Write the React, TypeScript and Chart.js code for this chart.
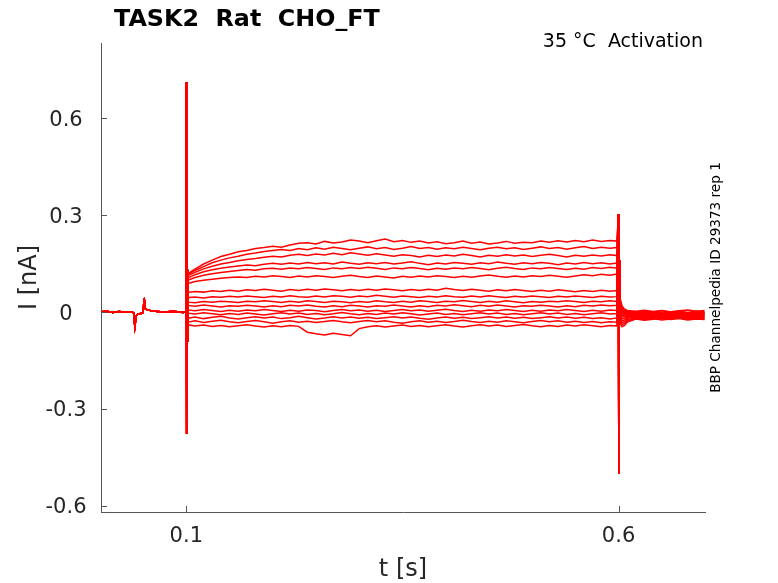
import React, { useEffect, useRef } from "react";
import { Chart, registerables } from "chart.js";

Chart.register(...registerables);

const TITLE = "TASK2  Rat  CHO_FT";
const NOTE = "35 °C  Activation";
const SIDE = "BBP Channelpedia ID 29373 rep 1";
const X_LABEL = "t [s]";
const Y_LABEL = "I [nA]";

const xTickValues = [0.1, 0.6];
const xTickLabels = ["0.1", "0.6"];
const yTickValues = [0.6, 0.3, 0, -0.3, -0.6];
const yTickLabels = ["0.6", "0.3", "0", "-0.3", "-0.6"];

// holding phase before the step (shared by every sweep)
const preTimes = [0.0015, 0.008, 0.015, 0.022, 0.03, 0.036, 0.039, 0.0405, 0.042, 0.044, 0.047, 0.05, 0.0512, 0.0525, 0.055, 0.06, 0.067, 0.075, 0.083, 0.09, 0.096, 0.0996];
const preCurrent = [0.0, 0.002, -0.002, 0.001, -0.001, 0.0, -0.003, -0.046, -0.012, -0.007, -0.005, -0.004, 0.043, 0.01, 0.006, 0.003, 0.001, -0.001, 0.002, 0.0, -0.002, 0.0];

// capacitive transient at step onset
const onsetTimes = [0.0999, 0.1002, 0.1006, 0.101, 0.1015];
const onsetCurrent = [0.711, -0.378, 0.22, -0.09, 0.13];

const stepTimes = [
  0.102, 0.11, 0.12, 0.13, 0.14, 0.15, 0.16, 0.17, 0.18, 0.19,
  0.2, 0.21, 0.22, 0.23, 0.24, 0.25, 0.26, 0.27, 0.28, 0.29,
  0.3, 0.31, 0.32, 0.33, 0.34, 0.35, 0.36, 0.37, 0.38, 0.39,
  0.4, 0.41, 0.42, 0.43, 0.44, 0.45, 0.46, 0.47, 0.48, 0.49,
  0.5, 0.51, 0.52, 0.53, 0.54, 0.55, 0.56, 0.57, 0.58, 0.59,
  0.598,
];

const sweep1 = [
  0.118, 0.132, 0.148, 0.16, 0.171, 0.178, 0.186, 0.19, 0.196, 0.199,
  0.203, 0.2, 0.207, 0.212, 0.214, 0.21, 0.218, 0.213, 0.216, 0.222,
  0.219, 0.214, 0.22, 0.225, 0.217, 0.221, 0.215, 0.219, 0.213, 0.217,
  0.211, 0.214, 0.219, 0.212, 0.216, 0.21, 0.213, 0.218, 0.212, 0.215,
  0.214, 0.219, 0.215, 0.22, 0.216, 0.221, 0.217, 0.222, 0.218, 0.221,
  0.219,
];
const sweep2 = [
  0.115, 0.128, 0.14, 0.152, 0.16, 0.167, 0.172, 0.178, 0.182, 0.187,
  0.19, 0.193, 0.19, 0.196, 0.192, 0.198, 0.194, 0.2, 0.196, 0.192,
  0.197, 0.201, 0.195, 0.199, 0.193, 0.197, 0.202, 0.196, 0.199, 0.194,
  0.198, 0.195, 0.2, 0.196, 0.192, 0.197, 0.2, 0.195, 0.198, 0.193,
  0.197, 0.201, 0.196, 0.199, 0.194, 0.198, 0.202, 0.196, 0.2, 0.197,
  0.199,
];
const sweep3 = [
  0.112, 0.122, 0.133, 0.141, 0.148, 0.153, 0.158, 0.162, 0.165, 0.169,
  0.172, 0.17, 0.175, 0.178, 0.174, 0.179, 0.176, 0.181, 0.177, 0.183,
  0.179, 0.175, 0.18, 0.176, 0.172, 0.177, 0.174, 0.17, 0.175, 0.171,
  0.176, 0.173, 0.178, 0.174, 0.17, 0.175, 0.172, 0.177, 0.173, 0.176,
  0.171, 0.175, 0.178, 0.174, 0.17, 0.175, 0.172, 0.176, 0.173, 0.177,
  0.174,
];
const sweep4 = [
  0.105, 0.115, 0.124, 0.13, 0.135, 0.139, 0.142, 0.145, 0.143, 0.147,
  0.15, 0.147, 0.151, 0.148, 0.153, 0.149, 0.152, 0.148, 0.154, 0.15,
  0.147, 0.152, 0.149, 0.153, 0.148, 0.151, 0.155, 0.15, 0.146, 0.151,
  0.148, 0.153, 0.15, 0.147, 0.152, 0.149, 0.154, 0.15, 0.147, 0.152,
  0.149, 0.153, 0.15, 0.146, 0.151, 0.148, 0.153, 0.149, 0.152, 0.148,
  0.151,
];
const sweep5 = [
  0.098, 0.106, 0.113, 0.118, 0.122, 0.125, 0.128, 0.131, 0.129, 0.133,
  0.135, 0.132, 0.136, 0.133, 0.137, 0.134, 0.131, 0.136, 0.133, 0.137,
  0.134, 0.138, 0.135, 0.131, 0.136, 0.133, 0.137, 0.134, 0.13, 0.135,
  0.132, 0.136, 0.133, 0.137, 0.134, 0.13, 0.135, 0.138, 0.134, 0.131,
  0.136, 0.133, 0.137, 0.134, 0.131, 0.135, 0.132, 0.137, 0.134, 0.138,
  0.135,
];
const sweep6 = [
  0.088, 0.094, 0.098, 0.101, 0.104, 0.106, 0.108, 0.106, 0.11, 0.108,
  0.112, 0.109, 0.106, 0.111, 0.108, 0.112, 0.109, 0.106, 0.11, 0.113,
  0.109, 0.106, 0.111, 0.108, 0.105, 0.11, 0.107, 0.111, 0.108, 0.112,
  0.109, 0.106, 0.11, 0.107, 0.111, 0.114, 0.11, 0.107, 0.111, 0.108,
  0.112, 0.109, 0.113, 0.11, 0.107, 0.111, 0.115, 0.112, 0.116, 0.113,
  0.117,
];
const sweep7 = [
  0.06, 0.063, 0.061, 0.065, 0.063, 0.067, 0.064, 0.068, 0.066, 0.07,
  0.067, 0.064, 0.069, 0.066, 0.07, 0.067, 0.071, 0.068, 0.065, 0.069,
  0.066, 0.07, 0.067, 0.071, 0.068, 0.065, 0.069, 0.066, 0.07, 0.067,
  0.073, 0.069, 0.066, 0.07, 0.067, 0.064, 0.068, 0.065, 0.069, 0.066,
  0.063, 0.067, 0.064, 0.068, 0.065, 0.062, 0.066, 0.063, 0.067, 0.064,
  0.066,
];
const sweep8 = [
  0.044, 0.046, 0.043, 0.047, 0.045, 0.048, 0.046, 0.049, 0.047, 0.044,
  0.048, 0.046, 0.05, 0.047, 0.045, 0.049, 0.046, 0.05, 0.048, 0.045,
  0.049, 0.047, 0.051, 0.048, 0.045, 0.049, 0.047, 0.044, 0.048, 0.046,
  0.05, 0.047, 0.045, 0.049, 0.046, 0.05, 0.047, 0.044, 0.048, 0.046,
  0.049, 0.047, 0.044, 0.048, 0.046, 0.049, 0.047, 0.044, 0.048, 0.046,
  0.047,
];
const sweep9 = [
  0.03, 0.028, 0.032, 0.03, 0.033, 0.031, 0.029, 0.033, 0.031, 0.034,
  0.032, 0.029, 0.033, 0.03, 0.034, 0.032, 0.029, 0.033, 0.031, 0.028,
  0.032, 0.03, 0.034, 0.031, 0.029, 0.033, 0.03, 0.034, 0.032, 0.029,
  0.033, 0.031, 0.035, 0.032, 0.029, 0.033, 0.03, 0.034, 0.031, 0.028,
  0.032, 0.03, 0.033, 0.031, 0.034, 0.032, 0.029, 0.033, 0.031, 0.034,
  0.032,
];
const sweep10 = [
  0.02, 0.017, 0.021, 0.018, 0.015, 0.019, 0.017, 0.02, 0.018, 0.015,
  0.019, 0.016, 0.02, 0.018, 0.021, 0.017, 0.015, 0.019, 0.016, 0.02,
  0.018, 0.015, 0.019, 0.017, 0.021, 0.018, 0.015, 0.019, 0.016, 0.02,
  0.018, 0.022, 0.019, 0.016, 0.02, 0.017, 0.021, 0.018, 0.015, 0.019,
  0.017, 0.02, 0.018, 0.015, 0.019, 0.016, 0.02, 0.018, 0.021, 0.019,
  0.02,
];
const sweep11 = [
  0.006, 0.003, 0.007, 0.004, 0.001, 0.005, 0.002, 0.006, 0.003, 0.007,
  0.004, 0.001, 0.005, 0.002, 0.006, 0.004, 0.0, 0.004, 0.007, 0.003,
  0.006, 0.002, 0.005, 0.001, 0.004, 0.007, 0.003, 0.006, 0.002, 0.005,
  0.008, 0.004, 0.001, 0.005, 0.002, 0.006, 0.003, 0.007, 0.004, 0.001,
  0.005, 0.002, 0.006, 0.003, 0.007, 0.004, 0.001, 0.005, 0.002, 0.006,
  0.004,
];
const sweep12 = [
  -0.004, -0.007, -0.003, -0.006, -0.009, -0.005, -0.008, -0.004, -0.007, -0.01,
  -0.006, -0.003, -0.007, -0.004, -0.008, -0.005, -0.009, -0.006, -0.002, -0.006,
  -0.009, -0.005, -0.008, -0.004, -0.007, -0.003, -0.006, -0.01, -0.007, -0.004,
  -0.008, -0.005, -0.009, -0.006, -0.003, -0.007, -0.004, -0.008, -0.005, -0.009,
  -0.006, -0.003, -0.007, -0.004, -0.008, -0.005, -0.009, -0.006, -0.003, -0.007,
  -0.005,
];
const sweep13 = [
  -0.02, -0.016, -0.021, -0.017, -0.014, -0.019, -0.022, -0.018, -0.015, -0.019,
  -0.016, -0.021, -0.018, -0.014, -0.018, -0.022, -0.019, -0.015, -0.019, -0.016,
  -0.02, -0.017, -0.021, -0.018, -0.015, -0.019, -0.016, -0.02, -0.023, -0.019,
  -0.016, -0.02, -0.017, -0.021, -0.018, -0.015, -0.019, -0.016, -0.02, -0.017,
  -0.021, -0.018, -0.015, -0.019, -0.016, -0.02, -0.017, -0.021, -0.018, -0.022,
  -0.019,
];
const sweep14 = [
  -0.032, -0.028, -0.033, -0.029, -0.026, -0.031, -0.034, -0.03, -0.027, -0.031,
  -0.035, -0.031, -0.028, -0.032, -0.029, -0.033, -0.03, -0.027, -0.031, -0.034,
  -0.03, -0.027, -0.031, -0.028, -0.032, -0.035, -0.031, -0.028, -0.032, -0.029,
  -0.033, -0.03, -0.026, -0.03, -0.033, -0.029, -0.032, -0.028, -0.031, -0.034,
  -0.03, -0.027, -0.031, -0.028, -0.032, -0.029, -0.033, -0.03, -0.034, -0.031,
  -0.032,
];
const sweep15 = [
  -0.04, -0.044, -0.041, -0.045, -0.042, -0.046, -0.043, -0.04, -0.044, -0.047,
  -0.043, -0.046, -0.042, -0.045, -0.063, -0.068, -0.072, -0.066, -0.07, -0.074,
  -0.052, -0.046, -0.043, -0.047, -0.044, -0.041, -0.045, -0.042, -0.046, -0.043,
  -0.04, -0.044, -0.047, -0.043, -0.04, -0.044, -0.041, -0.045, -0.042, -0.039,
  -0.043, -0.046, -0.042, -0.045, -0.041, -0.044, -0.04, -0.043, -0.046, -0.042,
  -0.044,
];

// capacitive transient at step offset
const offsetTimes = [0.5999, 0.6003, 0.6008, 0.6013];
const offsetCurrent = [0.302, -0.5, 0.16, 0.09];

const tailTimes = [0.602, 0.604, 0.607, 0.61, 0.62, 0.63, 0.64, 0.65, 0.66, 0.67, 0.68, 0.69, 0.6995];
const tail1 = [0.04, 0.018, 0.008, 0.004, 0.002, 0.005, 0.001, 0.004, 0.0, 0.003, 0.006, 0.002, 0.004];
const tail2 = [0.034, 0.014, 0.005, 0.001, -0.002, 0.002, -0.001, 0.003, -0.002, 0.001, -0.003, 0.002, 0.0];
const tail3 = [0.03, 0.01, 0.002, -0.002, 0.001, -0.003, 0.0, -0.004, -0.001, 0.002, -0.002, 0.001, -0.002];
const tail4 = [0.026, 0.008, 0.0, -0.004, -0.001, -0.005, -0.002, -0.006, -0.003, 0.0, -0.004, -0.001, -0.003];
const tail5 = [0.022, 0.005, -0.002, -0.006, -0.003, -0.007, -0.004, -0.008, -0.005, -0.002, -0.006, -0.003, -0.005];
const tail6 = [0.018, 0.002, -0.004, -0.007, -0.005, -0.009, -0.006, -0.003, -0.007, -0.004, -0.008, -0.005, -0.006];
const tail7 = [0.012, -0.002, -0.006, -0.009, -0.006, -0.01, -0.007, -0.011, -0.008, -0.005, -0.009, -0.006, -0.008];
const tail8 = [0.006, -0.006, -0.009, -0.011, -0.008, -0.012, -0.009, -0.013, -0.01, -0.007, -0.011, -0.008, -0.01];
const tail9 = [0.0, -0.01, -0.012, -0.013, -0.01, -0.014, -0.011, -0.008, -0.012, -0.009, -0.013, -0.01, -0.011];
const tail10 = [-0.006, -0.016, -0.015, -0.015, -0.012, -0.016, -0.013, -0.017, -0.014, -0.011, -0.015, -0.012, -0.014];
const tail11 = [-0.012, -0.022, -0.02, -0.017, -0.014, -0.018, -0.015, -0.012, -0.016, -0.013, -0.017, -0.014, -0.015];
const tail12 = [-0.018, -0.028, -0.025, -0.02, -0.016, -0.02, -0.017, -0.021, -0.018, -0.015, -0.019, -0.016, -0.018];
const tail13 = [-0.024, -0.034, -0.03, -0.024, -0.018, -0.022, -0.019, -0.016, -0.02, -0.017, -0.021, -0.018, -0.019];
const tail14 = [-0.03, -0.04, -0.036, -0.028, -0.02, -0.024, -0.021, -0.025, -0.022, -0.019, -0.023, -0.02, -0.022];
const tail15 = [-0.036, -0.046, -0.042, -0.032, -0.022, -0.026, -0.023, -0.02, -0.024, -0.021, -0.025, -0.022, -0.024];

const stepSweeps = [sweep1, sweep2, sweep3, sweep4, sweep5, sweep6, sweep7, sweep8, sweep9, sweep10, sweep11, sweep12, sweep13, sweep14, sweep15];
const tailSweeps = [tail1, tail2, tail3, tail4, tail5, tail6, tail7, tail8, tail9, tail10, tail11, tail12, tail13, tail14, tail15];

const X_MIN = 0.0013;
const X_MAX = 0.7;
const Y_MIN = -0.6195;
const Y_MAX = 0.832;

const TRACE_COLOR = "#ff0000";
const AXIS_COLOR = "#555555";
const TEXT_COLOR = "#262626";
const FONT = '"DejaVu Sans", "Liberation Sans", sans-serif';

function buildSweep(k: number) {
  const pts: { x: number; y: number }[] = [];
  preTimes.forEach((t, i) => pts.push({ x: t, y: preCurrent[i] }));
  onsetTimes.forEach((t, i) => pts.push({ x: t, y: onsetCurrent[i] }));
  stepTimes.forEach((t, i) => pts.push({ x: t, y: stepSweeps[k][i] }));
  offsetTimes.forEach((t, i) => pts.push({ x: t, y: offsetCurrent[i] }));
  tailTimes.forEach((t, i) => pts.push({ x: t, y: tailSweeps[k][i] }));
  return pts;
}

const decorPlugin = {
  id: "decor",
  afterDraw(chart: any) {
    const { ctx, chartArea: a, scales } = chart;
    const xs = scales.x;
    const ys = scales.y;
    ctx.save();
    // inward tick marks
    ctx.strokeStyle = AXIS_COLOR;
    ctx.lineWidth = 1;
    ctx.beginPath();
    xTickValues.forEach((v) => {
      const px = Math.round(xs.getPixelForValue(v)) + 0.5;
      ctx.moveTo(px, a.bottom);
      ctx.lineTo(px, a.bottom - 6);
    });
    yTickValues.forEach((v) => {
      const py = Math.round(ys.getPixelForValue(v)) + 0.5;
      ctx.moveTo(a.left, py);
      ctx.lineTo(a.left + 6, py);
    });
    ctx.stroke();

    ctx.fillStyle = TEXT_COLOR;
    ctx.textBaseline = "alphabetic";
    ctx.font = `21px ${FONT}`;
    ctx.textAlign = "center";
    xTickValues.forEach((v, i) => {
      ctx.fillText(xTickLabels[i], xs.getPixelForValue(v), a.bottom + 30);
    });
    ctx.textAlign = "center";
    yTickValues.forEach((v, i) => {
      ctx.fillText(yTickLabels[i], a.left - 35, ys.getPixelForValue(v) + 7.7);
    });

    // axis titles
    ctx.font = `24px ${FONT}`;
    ctx.textAlign = "center";
    ctx.fillText(X_LABEL, (a.left + a.right) / 2, a.bottom + 64);
    ctx.save();
    ctx.translate(35.5, (a.top + a.bottom) / 2);
    ctx.rotate(-Math.PI / 2);
    ctx.fillText(Y_LABEL, 0, 0);
    ctx.restore();

    // title
    ctx.fillStyle = "#000000";
    ctx.font = `bold 23.8px ${FONT}`;
    ctx.textAlign = "left";
    ctx.fillText(TITLE, a.left + 13, 26);

    // annotation
    ctx.font = `19px ${FONT}`;
    ctx.textAlign = "right";
    ctx.fillText(NOTE, a.right - 2, 47);

    // side label
    ctx.font = `13.6px ${FONT}`;
    ctx.textAlign = "center";
    ctx.save();
    ctx.translate(720, (a.top + a.bottom) / 2);
    ctx.rotate(-Math.PI / 2);
    ctx.fillText(SIDE, 0, 0);
    ctx.restore();

    ctx.restore();
  },
};

export default function App() {
  const canvasRef = useRef<HTMLCanvasElement | null>(null);

  useEffect(() => {
    const canvas = canvasRef.current;
    if (!canvas) return;
    const datasets = stepSweeps.map((_, k) => ({
      label: `sweep ${k + 1}`,
      data: buildSweep(k),
      borderColor: TRACE_COLOR,
      backgroundColor: TRACE_COLOR,
      borderWidth: 1.5,
      pointRadius: 0,
      tension: 0,
      fill: false,
    }));
    const chart = new Chart(canvas, {
      type: "line",
      data: { datasets },
      options: {
        animation: false,
        responsive: true,
        maintainAspectRatio: false,
        events: [],
        layout: { padding: { top: 43, right: 73, left: 0, bottom: 0 } },
        plugins: { legend: { display: false }, tooltip: { enabled: false }, title: { display: false } },
        scales: {
          x: {
            type: "linear",
            min: X_MIN,
            max: X_MAX,
            afterBuildTicks: (s: any) => {
              s.ticks = xTickValues.map((v) => ({ value: v }));
            },
            afterFit: (s: any) => {
              s.height = 71;
            },
            ticks: { display: false },
            grid: { display: true, drawOnChartArea: false, drawTicks: false },
            border: { display: true, color: AXIS_COLOR, width: 1 },
          },
          y: {
            type: "linear",
            min: Y_MIN,
            max: Y_MAX,
            afterBuildTicks: (s: any) => {
              s.ticks = yTickValues.map((v) => ({ value: v }));
            },
            afterFit: (s: any) => {
              s.width = 101;
            },
            ticks: { display: false },
            grid: { display: true, drawOnChartArea: false, drawTicks: false },
            border: { display: true, color: AXIS_COLOR, width: 1 },
          },
        },
      },
      plugins: [decorPlugin],
    });
    return () => chart.destroy();
  }, []);

  return (
    <div style={{ position: "absolute", left: 0, top: 0, width: 778, height: 583, background: "#ffffff" }}>
      <canvas ref={canvasRef} />
    </div>
  );
}
